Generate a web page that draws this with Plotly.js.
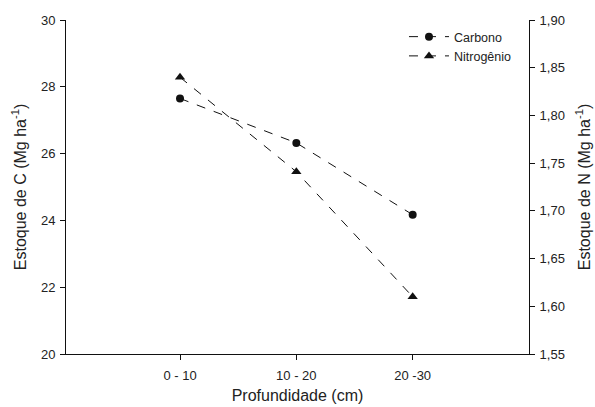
<!DOCTYPE html>
<html>
<head>
<meta charset="utf-8">
<script src="https://cdn.plot.ly/plotly-3.0.1.min.js"></script>
<style>html,body{margin:0;padding:0;background:#fff;}#chart{width:595px;height:407px;}</style>
</head>
<body>
<div id="chart"></div>
<script>
const categories = ["0 - 10", "10 - 20", "20 -30"];
const carbono = [27.65, 26.32, 24.17];
const nitrogenio = [1.84, 1.741, 1.61];
const seriesNames = ["Carbono", "Nitrogênio"];

const fam = "Liberation Sans, Arial, sans-serif";
const txt = "#222";

const traces = [
  {x: categories, y: carbono, name: seriesNames[0], type: "scatter", mode: "lines+markers",
   line: {color: "#111", width: 1, dash: "dash"},
   marker: {symbol: "circle", size: 8, color: "#111"}, yaxis: "y"},
  {x: categories, y: nitrogenio, name: seriesNames[1], type: "scatter", mode: "lines+markers",
   line: {color: "#111", width: 1, dash: "dash"},
   marker: {symbol: "triangle-up", size: 9, color: "#111"}, yaxis: "y2"}
];

const layout = {
  width: 595, height: 407,
  margin: {l: 66, r: 66, t: 20, b: 53, pad: 0},
  paper_bgcolor: "#fff", plot_bgcolor: "#fff",
  font: {family: fam, color: txt, size: 13},
  separators: ",.",
  showlegend: true,
  legend: {x: 0.730, y: 0.994, xanchor: "left", yanchor: "top", bgcolor: "rgba(0,0,0,0)",
           font: {family: fam, size: 12.5, color: txt}, itemwidth: 40},
  xaxis: {type: "category", range: [-0.98, 3.0], showline: true, linecolor: "#111", linewidth: 1,
          ticks: "outside", ticklen: 5, tickcolor: "#111", showgrid: false, zeroline: false,
          ticklabelstandoff: 4,
          tickfont: {size: 13, family: fam, color: txt},
          title: {text: "Profundidade (cm)", font: {size: 16, family: fam, color: txt}, standoff: 8}},
  yaxis: {range: [20, 30], dtick: 2, showline: true, linecolor: "#111", linewidth: 1,
          ticks: "outside", ticklen: 5, tickcolor: "#111", showgrid: false, zeroline: false,
          ticklabelstandoff: 2,
          tickfont: {size: 13, family: fam, color: txt},
          title: {text: "Estoque de C (Mg ha<sup>-1</sup>)", font: {size: 16, family: fam, color: txt}, standoff: 10}},
  yaxis2: {range: [1.55, 1.90], dtick: 0.05, tickformat: ".2f", overlaying: "y", side: "right",
          showline: true, linecolor: "#111", linewidth: 1,
          ticks: "outside", ticklen: 5, tickcolor: "#111", showgrid: false, zeroline: false,
          ticklabelstandoff: 2,
          tickfont: {size: 13, family: fam, color: txt},
          title: {text: "Estoque de N (Mg ha<sup>-1</sup>)", font: {size: 16, family: fam, color: txt}, standoff: 14}}
};

Plotly.newPlot("chart", traces, layout, {displayModeBar: false, staticPlot: true});
</script>
</body>
</html>
